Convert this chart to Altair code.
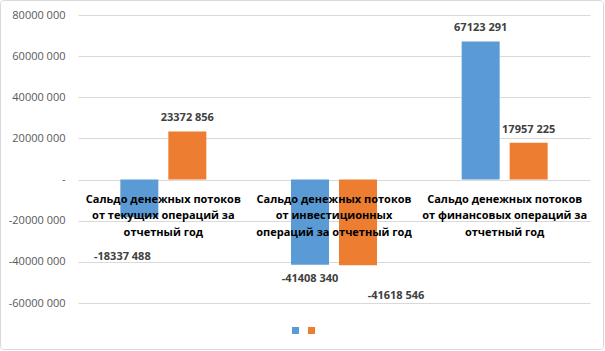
import altair as alt
import pandas as pd

# ---- data ----
category_lines = [
    ["Сальдо денежных потоков", "от текущих операций за", "отчетный год"],
    ["Сальдо денежных потоков", "от инвестиционных", "операций за отчетный год"],
    ["Сальдо денежных потоков", "от финансовых операций за", "отчетный год"],
]
series_names = ["Ряд1", "Ряд2"]
series_1 = [-18337488, -41408340, 67123291]
series_2 = [23372856, -41618546, 17957225]
y_ticks = [-60000000, -40000000, -20000000, 0, 20000000, 40000000, 60000000, 80000000]

colors = ["#5B9BD5", "#ED7D31"]
FONT = "Open Sans"

categories = [" ".join(l) for l in category_lines]


def fmt(v):
    sign = "-" if v < 0 else ""
    a = abs(v)
    return f"{sign}{a // 1000} {a % 1000:03d}"


rows = []
for ci, cat in enumerate(categories):
    for si, (name, vals) in enumerate(zip(series_names, [series_1, series_2])):
        v = vals[ci]
        rows.append({"cat": cat, "series": name, "value": v, "label": fmt(v),
                     "key": f"{ci}-{si}"})
df = pd.DataFrame(rows)

cat_df = pd.DataFrame({"cat": categories, "text": ["\n".join(l) for l in category_lines]})

W, H = 512, 288

x_enc = alt.X("cat:N", sort=categories, axis=None,
              scale=alt.Scale(paddingInner=0, paddingOuter=0))
xo_enc = alt.XOffset("series:N", sort=series_names,
                     scale=alt.Scale(paddingInner=0.208, paddingOuter=0.882))
y_scale = alt.Scale(domain=[-60000000, 80000000], nice=False, zero=False)

y_axis = alt.Axis(values=y_ticks, domain=False, ticks=False, title=None,
                  grid=True, gridColor="#D9D9D9", gridWidth=1,
                  labelFont=FONT, labelFontSize=11, labelColor="#595959",
                  labelPadding=13,
                  labelExpr="datum.value == 0 ? '-\u00a0\u00a0' : (datum.value < 0 ? '-' : '') + toString(abs(datum.value) / 1000) + ' 000'")

base = alt.Chart(df)

bars = base.mark_bar(size=38).encode(
    x=x_enc,
    xOffset=xo_enc,
    y=alt.Y("value:Q", scale=y_scale, axis=y_axis),
    color=alt.Color("series:N", sort=series_names,
                    scale=alt.Scale(domain=series_names, range=colors),
                    legend=alt.Legend(orient="none", legendX=214, legendY=312,
                                      direction="horizontal", title=None,
                                      labelExpr="''", symbolType="square",
                                      symbolSize=49, symbolStrokeWidth=0,
                                      labelOffset=0, columnPadding=9, padding=0,
                                      labelFontSize=1)),
)

# label nudges (style) per bar key
default_pos = dict(dx=0, dy=-13)
nudges = {
    "0-0": dict(dx=-17, dy=40),
    "1-0": dict(dx=0, dy=14),
    "1-1": dict(dx=38, dy=31),
}


def label_layer(filter_expr, dx, dy):
    return base.transform_filter(filter_expr).mark_text(
        font=FONT, fontSize=11, fontWeight="bold", color="#404040",
        baseline="middle", align="center", dx=dx, dy=dy,
    ).encode(
        x=x_enc, xOffset=xo_enc,
        y=alt.Y("value:Q", scale=y_scale),
        text="label:N",
    )


label_layers = [label_layer(f"datum.key == '{k}'", **p) for k, p in nudges.items()]
keys_special = list(nudges.keys())
cond = " && ".join([f"datum.key != '{k}'" for k in keys_special])
label_layers.append(label_layer(cond, **default_pos))

cat_text = alt.Chart(cat_df).mark_text(
    font=FONT, fontSize=11, fontWeight="bold", color="#000000",
    baseline="top", align="center", lineBreak="\n", lineHeight=16.5, dy=14,
).encode(
    x=alt.X("cat:N", sort=categories, axis=None),
    y=alt.datum(0),
    text="text:N",
)

border = alt.Chart(pd.DataFrame({"a": [0]})).mark_rect(
    filled=False, stroke="#D9D9D9", strokeWidth=1, cornerRadius=3,
).encode(
    x=alt.value(-77.5), x2=alt.value(525.5),
    y=alt.value(-14.5), y2=alt.value(334.5),
)

chart = alt.layer(bars, *label_layers, cat_text, border).properties(
    width=W, height=H,
    autosize=alt.AutoSizeParams(type="none"),
    padding={"left": 78, "top": 15, "right": 15, "bottom": 48},
    background="white",
).configure_view(stroke=None)

chart.save("out.html", embed_options={"renderer": "svg", "actions": False})
